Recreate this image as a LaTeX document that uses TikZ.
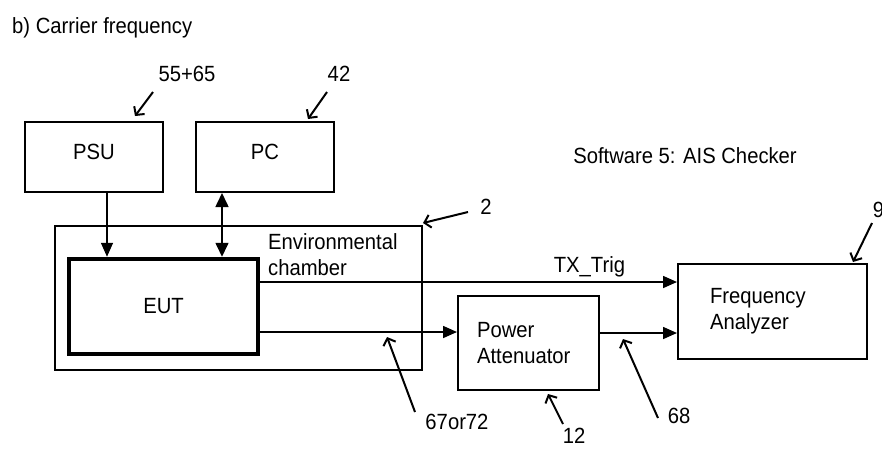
\documentclass[tikz,border=0pt]{standalone}
\usepackage{fontspec}
\setmainfont{Liberation Sans}[FakeStretch=0.92]
\usepackage{tikz}
\usetikzlibrary{arrows.meta,positioning}

\begin{document}
\begin{tikzpicture}[
  x=1pt,y=-1pt,
  every node/.style={font=\fontsize{22}{26}\selectfont,inner sep=0pt},
  box/.style={draw,line width=2pt,minimum width=138pt,minimum height=70pt},
  eutbox/.style={draw,line width=4.5pt,minimum width=189pt,minimum height=95pt},
  conn/.style={-{Triangle[length=14pt,width=12pt]},line width=1.6pt},
  twoway/.style={{Triangle[length=14pt,width=13pt]}-{Triangle[length=14pt,width=13pt]},line width=1.6pt},
  callout/.style={-{Straight Barb[length=6pt,width=13pt]},line width=2pt}
]
\useasboundingbox (0,0) rectangle (882,448);
\node[anchor=north west] (title) at (12,17) {b) Carrier frequency};
\node[box,text depth=10pt] (psu) at (94,157) {PSU};
\node[box,text depth=10pt,right=31pt of psu] (pc) {PC};
\node (software) at (685,156) {Software 5: AIS Checker};
\node[draw,line width=2pt,minimum width=367pt,minimum height=144pt] (chamber) at (238.5,298) {};
\node[eutbox] (eut) at (163.5,306.5) {EUT};
\node[anchor=north west,align=left] (envlabel) at (268,233) {Environmental\\chamber};
\node[box,minimum width=141pt,minimum height=94pt,align=left,text width=103pt] (att) at (528.5,343) {Power\\Attenuator};
\node[box,minimum width=189pt,minimum height=95pt,align=left,text width=125pt] (fa) at (772.5,311.5) {Frequency\\Analyzer};
% signal paths
\draw[conn] ([xshift=13pt]psu.south) -- ([xshift=13pt]psu.south |- eut.north);
\draw[twoway] ([xshift=-43pt]pc.south) -- ([xshift=-43pt]pc.south |- eut.north);
\draw[conn] ([yshift=24.5pt]eut.east) -- ([yshift=24.5pt]eut.east -| fa.west) node[pos=0.79,above=2pt,inner sep=2pt] (trig) {TX\_Trig};
\draw[conn] ([yshift=-25.5pt]eut.east) -- ([yshift=-25.5pt]eut.east -| att.west);
\draw[conn] ([yshift=10pt]att.east) -- ([yshift=10pt]att.east -| fa.west);
% item numbers
\node (n5565) at (187,74) {55+65};
\node (n42) at (339,74) {42};
\node (n2) at (486,207) {2};
\node (n9) at (878.6,210) {9};
\node (n6772) at (457,422) {67or72};
\node (n12) at (574,436) {12};
\node (n68) at (679,416) {68};
\coordinate (t5565) at (153,92); \coordinate (h5565) at (135,116);
\coordinate (t42) at (327,92); \coordinate (h42) at (308,119);
\coordinate (t2) at (468,212); \coordinate (h2) at (423,223);
\coordinate (t9) at (872,223); \coordinate (h9) at (853,262);
\coordinate (t6772) at (415,412); \coordinate (h6772) at (387,337);
\coordinate (t12) at (563,424); \coordinate (h12) at (548,394);
\coordinate (t68) at (658,418); \coordinate (h68) at (623,339);
\draw[callout] (t5565) -- (h5565);
\draw[callout] (t42) -- (h42);
\draw[callout] (t2) -- (h2);
\draw[callout] (t9) -- (h9);
\draw[callout] (t6772) -- (h6772);
\draw[callout] (t12) -- (h12);
\draw[callout] (t68) -- (h68);
\end{tikzpicture}
\end{document}
